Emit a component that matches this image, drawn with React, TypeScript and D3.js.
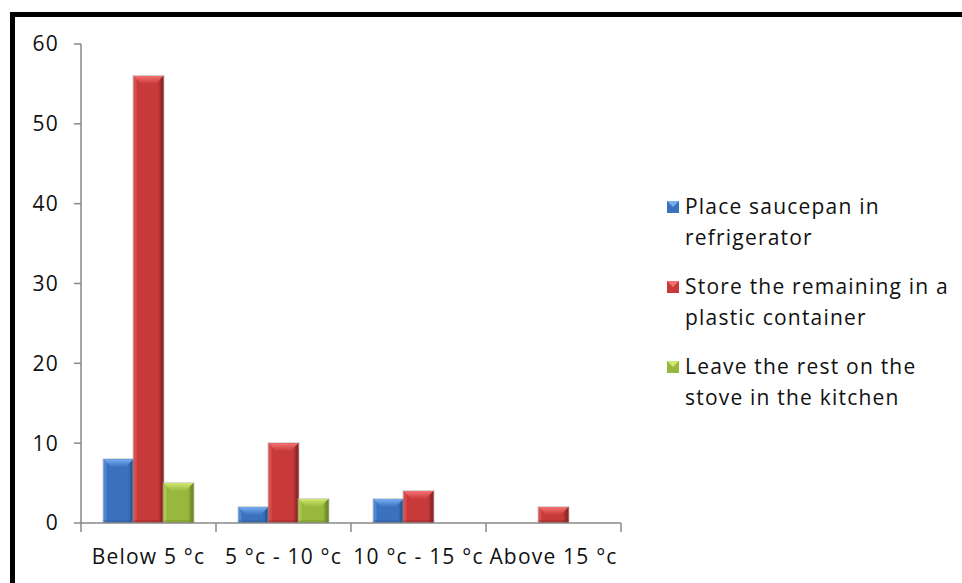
import * as d3 from 'd3';

const categories = ['Below 5 °c', '5 °c - 10 °c', '10 °c - 15 °c', 'Above 15 °c'];
const seriesNames = [
  ['Place saucepan in', 'refrigerator'],
  ['Store the remaining in a', 'plastic container'],
  ['Leave the rest on the', 'stove in the kitchen'],
];
const saucepan = [8, 2, 3, 0];
const plastic = [56, 10, 4, 2];
const stove = [5, 3, 0, 0];
const yTicks = [0, 10, 20, 30, 40, 50, 60];

const colors = [
  { base: '#3b72c0', light: '#78aef0', dark: '#2a5690' },
  { base: '#c83a3a', light: '#f57272', dark: '#8e2626' },
  { base: '#97b83c', light: '#cfe86e', dark: '#6d8a26' },
];

const font = 'Open Sans, Lato, sans-serif';

export default function App() {
  const width = 962;
  const height = 583;
  const values = [saucepan, plastic, stove];

  const x = d3.scaleBand<string>().domain(categories).range([81, 621]).paddingInner(1 / 3).paddingOuter(1 / 6);
  const xs = d3.scaleBand<number>().domain([0, 1, 2]).range([0, x.bandwidth()]);
  const y = d3.scaleLinear().domain([0, 60]).range([523, 44]);
  const bevel = 8;
  const textStyle = { fontFamily: font, fontSize: 21, letterSpacing: 1.2, fill: '#111' };

  return (
    <svg width={width} height={height} style={{ position: 'fixed', left: 0, top: 0, background: '#fff' }}>
      <defs>
        {colors.map((c, i) => (
          <linearGradient key={i} id={`g${i}`} x1="0" x2="1" y1="0" y2="0">
            <stop offset="0" stopColor={c.base} />
            <stop offset="0.8" stopColor={c.base} />
            <stop offset="1" stopColor={c.dark} />
          </linearGradient>
        ))}
        {colors.map((c, i) => (
          <linearGradient key={i} id={`t${i}`} x1="0" x2="0" y1="0" y2="1">
            <stop offset="0" stopColor={c.light} />
            <stop offset="1" stopColor={c.base} />
          </linearGradient>
        ))}
      </defs>
      <rect x={12.5} y={14.5} width={980} height={600} fill="#fff" stroke="#000" strokeWidth={5} />

      {/* y axis */}
      <line x1={81} x2={81} y1={y(60)} y2={y(0)} stroke="#888" strokeWidth={1.5} />
      {yTicks.map(t => (
        <g key={t}>
          <line x1={74} x2={81} y1={y(t)} y2={y(t)} stroke="#888" strokeWidth={1.5} />
          <text x={59} y={y(t)} dy="0.35em" textAnchor="end" {...textStyle}>{t}</text>
        </g>
      ))}

      {/* bars */}
      {values.map((vals, si) =>
        vals.map((v, ci) => {
          if (v <= 0) return null;
          const bx = (x(categories[ci]) ?? 0) + (xs(si) ?? 0);
          const bw = xs.bandwidth();
          const by = y(v);
          const bh = y(0) - by;
          const b = Math.min(bevel, bh / 2);
          const c = colors[si];
          return (
            <g key={`${si}-${ci}`}>
              <rect x={bx - 1} y={by - 1} width={bw + 2} height={bh + 1} fill="#aaa" opacity={0.5} />
              <rect x={bx} y={by} width={bw} height={bh} fill={`url(#g${si})`} />
              <polygon points={`${bx},${by} ${bx + bw},${by} ${bx + bw - b},${by + b} ${bx + b},${by + b}`} fill={`url(#t${si})`} />
              <polygon points={`${bx},${by} ${bx + 3},${by + 3} ${bx + 3},${by + bh} ${bx},${by + bh}`} fill={c.light} opacity={0.35} />
              <polygon points={`${bx + bw},${by} ${bx + bw},${by + bh} ${bx + bw - 3},${by + bh} ${bx + bw - 3},${by + 3}`} fill={c.dark} opacity={0.7} />
              <rect x={bx} y={by + bh - 3} width={bw} height={3} fill={c.dark} opacity={0.35} />
            </g>
          );
        })
      )}

      {/* x axis */}
      <line x1={81} x2={621} y1={y(0)} y2={y(0)} stroke="#888" strokeWidth={1.5} />
      {[...categories.map(c => x(c)! - x.step() * x.paddingInner() / 2), 621].map((t, i) => (
        <line key={i} x1={t} x2={t} y1={y(0)} y2={y(0) + 9} stroke="#888" strokeWidth={1.5} />
      ))}
      {categories.map(c => (
        <text key={c} x={(x(c) ?? 0) + x.bandwidth() / 2} y={564} textAnchor="middle" {...textStyle}>{c}</text>
      ))}

      {/* legend */}
      {seriesNames.map((lines, i) => {
        const ly = 207 + i * 80;
        const c = colors[i];
        return (
          <g key={i}>
            <rect x={667} y={ly - 6} width={12} height={12} fill={c.base} />
            <polygon points={`${667},${ly - 6} ${679},${ly - 6} ${673},${ly}`} fill={c.light} />
            {lines.map((t, k) => (
              <text key={k} x={685} y={ly + k * 31} dy="0.35em" {...textStyle}>{t}</text>
            ))}
          </g>
        );
      })}
    </svg>
  );
}
